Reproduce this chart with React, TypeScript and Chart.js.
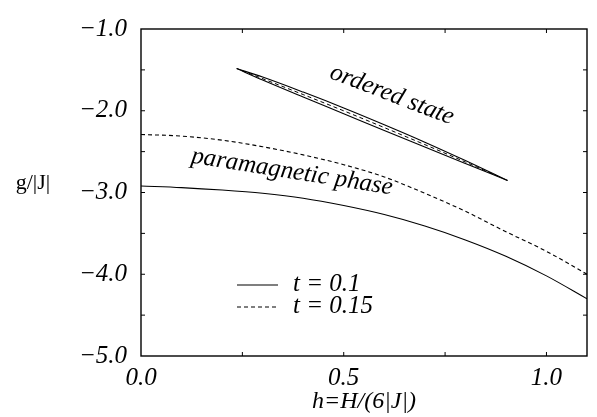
import React, { useEffect, useRef } from "react";
import { Chart, registerables } from "chart.js";

Chart.register(...registerables);

// ---- data ----
const paraH = [0, 0.1, 0.2, 0.3, 0.4, 0.5, 0.6, 0.7, 0.8, 0.9, 1.0, 1.1];
const paraT010 = [-2.92, -2.94, -2.97, -3.01, -3.07, -3.16, -3.27, -3.41, -3.58, -3.78, -4.02, -4.3];
const paraT015 = [-2.29, -2.31, -2.36, -2.44, -2.54, -2.66, -2.81, -3.01, -3.23, -3.48, -3.72, -4.0];

const ordH010 = [0.236, 0.3, 0.4, 0.5, 0.6, 0.7, 0.8, 0.904];
const ordUpperT010 = [-1.484, -1.588, -1.772, -1.966, -2.171, -2.384, -2.609, -2.853];
const ordLowerT010 = [-1.484, -1.624, -1.832, -2.036, -2.241, -2.444, -2.645, -2.853];
const ordH015 = [0.25, 0.4, 0.5, 0.6, 0.7, 0.8, 0.88];
const ordT015 = [-1.511, -1.802, -2.001, -2.206, -2.414, -2.627, -2.8];

const xLabelTicks = [0, 0.5, 1.0];
const xMinorTicks = [0.25, 0.5, 0.75, 1.0];
const yLabelTicks = [-5, -4, -3, -2, -1];
const yMinorTicks = [-4.5, -4, -3.5, -3, -2.5, -2, -1.5];

const legendLabels = ["t = 0.1", "t = 0.15"];
const xTitle = "h=H/(6|J|)";
const yTitle = "g/|J|";
const orderedLabel = "ordered state";
const paraLabel = "paramagnetic phase";

const SERIF = "'Liberation Serif', 'Times New Roman', serif";

function pts(xs: number[], ys: number[]) {
  return xs.map((x, i) => ({ x, y: ys[i] }));
}

const decorPlugin = {
  id: "decor",
  afterDraw(chart: any) {
    const ctx = chart.ctx as CanvasRenderingContext2D;
    const { left, right, top, bottom } = chart.chartArea;
    const xs = chart.scales.x;
    const ys = chart.scales.y;
    ctx.save();
    ctx.strokeStyle = "#000";
    ctx.fillStyle = "#000";
    // frame
    ctx.lineWidth = 1.4;
    ctx.strokeRect(left, top, right - left, bottom - top);
    // inward ticks
    ctx.lineWidth = 1;
    const tl = 4;
    ctx.beginPath();
    xMinorTicks.forEach((v) => {
      const px = xs.getPixelForValue(v);
      ctx.moveTo(px, bottom);
      ctx.lineTo(px, bottom - tl);
      ctx.moveTo(px, top);
      ctx.lineTo(px, top + tl);
    });
    yMinorTicks.forEach((v) => {
      const py = ys.getPixelForValue(v);
      ctx.moveTo(left, py);
      ctx.lineTo(left + tl, py);
      ctx.moveTo(right, py);
      ctx.lineTo(right - tl, py);
    });
    ctx.stroke();

    // y title (horizontal)
    ctx.font = `22px ${SERIF}`;
    ctx.textAlign = "center";
    ctx.textBaseline = "middle";
    ctx.fillText(yTitle, 33, 183);

    // annotations
    ctx.font = `italic 25px ${SERIF}`;
    ctx.save();
    ctx.translate(392, 95);
    ctx.rotate((21 * Math.PI) / 180);
    ctx.fillText(orderedLabel, 0, 0);
    ctx.restore();

    ctx.save();
    ctx.translate(292, 172);
    ctx.rotate((9 * Math.PI) / 180);
    ctx.fillText(paraLabel, 0, 0);
    ctx.restore();

    // legend
    ctx.lineWidth = 1.1;
    ctx.beginPath();
    ctx.setLineDash([]);
    ctx.moveTo(237, 285);
    ctx.lineTo(278, 285);
    ctx.stroke();
    ctx.beginPath();
    ctx.setLineDash([4, 3]);
    ctx.moveTo(237, 307);
    ctx.lineTo(278, 307);
    ctx.stroke();
    ctx.setLineDash([]);
    ctx.textAlign = "left";
    ctx.fillText(legendLabels[0], 293, 284);
    ctx.fillText(legendLabels[1], 293, 306);
    ctx.restore();
  },
};

export default function App() {
  const ref = useRef<HTMLCanvasElement>(null);
  useEffect(() => {
    if (!ref.current) return;
    const solid = { borderColor: "#000", borderWidth: 1.1, pointRadius: 0, fill: false, cubicInterpolationMode: "monotone" as const };
    const dashed = { ...solid, borderDash: [4, 3] };
    const chart = new Chart(ref.current, {
      type: "line",
      data: {
        datasets: [
          { ...solid, label: legendLabels[0], data: pts(paraH, paraT010) },
          { ...dashed, label: legendLabels[1], data: pts(paraH, paraT015) },
          { ...solid, label: "ordered upper", data: pts(ordH010, ordUpperT010) },
          { ...solid, label: "ordered lower", data: pts(ordH010, ordLowerT010) },
          { ...dashed, label: "ordered t015", borderWidth: 1, data: pts(ordH015, ordT015) },
        ],
      },
      options: {
        animation: false,
        responsive: true,
        maintainAspectRatio: false,
        layout: { padding: { top: 17, right: 10, left: 0, bottom: 0 } },
        plugins: { legend: { display: false }, tooltip: { enabled: false } },
        scales: {
          x: {
            type: "linear",
            min: 0,
            max: 1.1,
            grid: { display: false, drawTicks: false, tickLength: 0 },
            border: { display: false },
            afterFit: (s: any) => {
              s.height = 61;
            },
            ticks: {
              stepSize: 0.5,
              includeBounds: false,
              autoSkip: false,
              maxRotation: 0,
              padding: 7,
              color: "#000",
              font: { family: SERIF, size: 25, style: "italic" },
              callback: (v: any) => (xLabelTicks.includes(Number(v)) ? Number(v).toFixed(1) : ""),
            },
            title: {
              display: true,
              text: xTitle,
              color: "#000",
              font: { family: SERIF, size: 24, style: "italic" },
              padding: { top: 0, bottom: 1 },
            },
          },
          y: {
            type: "linear",
            min: -5,
            max: -1,
            grid: { display: false, drawTicks: false, tickLength: 0 },
            border: { display: false },
            afterFit: (s: any) => {
              s.width = 141;
            },
            ticks: {
              stepSize: 1,
              autoSkip: false,
              padding: 14,
              color: "#000",
              font: { family: SERIF, size: 25, style: "italic" },
              callback: (v: any) =>
                yLabelTicks.includes(Number(v)) ? (Number(v) < 0 ? "\u2212" : "") + Math.abs(Number(v)).toFixed(1) : "",
            },
          },
        },
      },
      plugins: [decorPlugin],
    } as any);
    return () => chart.destroy();
  }, []);
  return (
    <div style={{ position: "absolute", left: 0, top: 0, width: 597, height: 417, background: "#fff" }}>
      <canvas ref={ref} />
    </div>
  );
}
